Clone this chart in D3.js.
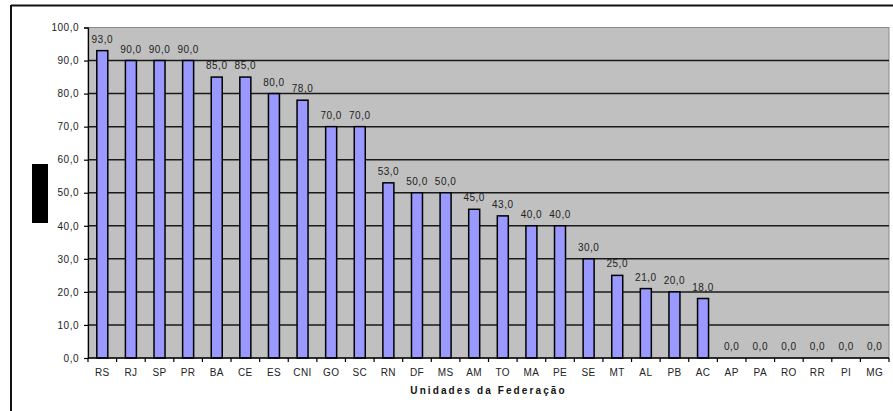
<!DOCTYPE html>
<html>
<head>
<meta charset="utf-8">
<script src="https://cdn.jsdelivr.net/npm/d3@7"></script>
<style>
  html, body { margin: 0; padding: 0; background: #ffffff; }
  svg { display: block; }
  text { font-family: "Liberation Sans", Arial, sans-serif; }
</style>
</head>
<body>
<svg id="chart" width="893" height="411"></svg>
<script>
// Unidades da Federação e respectivos valores
const categories = ["RS","RJ","SP","PR","BA","CE","ES","CNI","GO","SC","RN","DF","MS","AM","TO","MA","PE","SE","MT","AL","PB","AC","AP","PA","RO","RR","PI","MG"];
const values = [93,90,90,90,85,85,80,78,70,70,53,50,50,45,43,40,40,30,25,21,20,18,0,0,0,0,0,0];
const yTicks = [0,10,20,30,40,50,60,70,80,90,100];
const xTitle = "Unidades da Federação";

const svg = d3.select("#chart");
const plot = { left: 88, right: 889, top: 27.5, bottom: 358 };

const fmt = v => d3.format(".1f")(v).replace(".", ",");

const band = d3.scaleBand().domain(categories).range([plot.left, plot.right]);
const y = d3.scaleLinear().domain([0, 100]).range([plot.bottom, plot.top]);

// outer frame (top and left edges visible)
svg.append("line").attr("x1", 11).attr("x2", 893).attr("y1", 5.5).attr("y2", 5.5)
  .attr("stroke", "#111").attr("stroke-width", 2);
svg.append("line").attr("x1", 11).attr("x2", 11).attr("y1", 5).attr("y2", 411)
  .attr("stroke", "#111").attr("stroke-width", 2);

// plot area background
svg.append("rect")
  .attr("x", plot.left).attr("y", plot.top)
  .attr("width", plot.right - plot.left).attr("height", plot.bottom - plot.top)
  .attr("fill", "#c0c0c0").attr("stroke", "#8a8a8a").attr("stroke-width", 1);

// horizontal gridlines
svg.append("g").selectAll("line")
  .data(yTicks.filter(t => t > 0 && t < 100))
  .join("line")
  .attr("x1", plot.left).attr("x2", plot.right)
  .attr("y1", d => y(d)).attr("y2", d => y(d))
  .attr("stroke", "#1a1a1a").attr("stroke-width", 1.5);

// bars
svg.append("g").selectAll("rect")
  .data(categories.map((c, i) => ({ c, v: values[i] })))
  .join("rect")
  .attr("x", d => band(d.c) + band.bandwidth() / 2 - 5.5)
  .attr("width", 11)
  .attr("y", d => y(d.v))
  .attr("height", d => y(0) - y(d.v))
  .attr("fill", "#9999ff")
  .attr("stroke", "#000")
  .attr("stroke-width", d => d.v > 0 ? 1.5 : 0);

// value labels
svg.append("g").selectAll("text")
  .data(categories.map((c, i) => ({ c, v: values[i] })))
  .join("text")
  .attr("x", d => band(d.c) + band.bandwidth() / 2)
  .attr("y", d => y(d.v) - 8)
  .attr("text-anchor", "middle")
  .attr("font-size", 10)
  .attr("letter-spacing", 0.5)
  .attr("fill", "#222")
  .text(d => fmt(d.v));

// y axis
const yAxis = svg.append("g")
  .attr("transform", `translate(${plot.left},0)`)
  .call(d3.axisLeft(y).tickValues(yTicks).tickSize(4).tickPadding(5).tickFormat(fmt));
yAxis.select(".domain").attr("stroke", "#000").attr("stroke-width", 1.2);
yAxis.selectAll(".tick line").attr("stroke", "#000").attr("stroke-width", 1.2);
yAxis.selectAll("text").attr("font-size", 10).attr("letter-spacing", 0.5).attr("fill", "#222")
  .attr("font-family", "'Liberation Sans', Arial, sans-serif");

// x axis: ticks at category boundaries
const xg = svg.append("g").attr("transform", `translate(0,${plot.bottom})`);
xg.append("line").attr("x1", plot.left).attr("x2", plot.right).attr("y1", 0).attr("y2", 0)
  .attr("stroke", "#000").attr("stroke-width", 1.5);
xg.selectAll("line.tk")
  .data(categories.concat(["_end"]))
  .join("line").attr("class", "tk")
  .attr("x1", (d, i) => plot.left + i * band.bandwidth())
  .attr("x2", (d, i) => plot.left + i * band.bandwidth())
  .attr("y1", 0).attr("y2", 4)
  .attr("stroke", "#000").attr("stroke-width", 1.2);
xg.selectAll("text")
  .data(categories)
  .join("text")
  .attr("x", d => band(d) + band.bandwidth() / 2)
  .attr("y", 18)
  .attr("text-anchor", "middle")
  .attr("font-size", 10)
  .attr("letter-spacing", 0.4)
  .attr("fill", "#222")
  .text(d => d);

// x axis title
svg.append("text")
  .attr("x", (plot.left + plot.right) / 2)
  .attr("y", 394)
  .attr("text-anchor", "middle")
  .attr("font-size", 10)
  .attr("font-weight", "bold")
  .attr("letter-spacing", 2.1)
  .attr("fill", "#111")
  .text(xTitle);

// y axis title block
svg.append("rect").attr("x", 32).attr("y", 164).attr("width", 16).attr("height", 59).attr("fill", "#000");
</script>
</body>
</html>
